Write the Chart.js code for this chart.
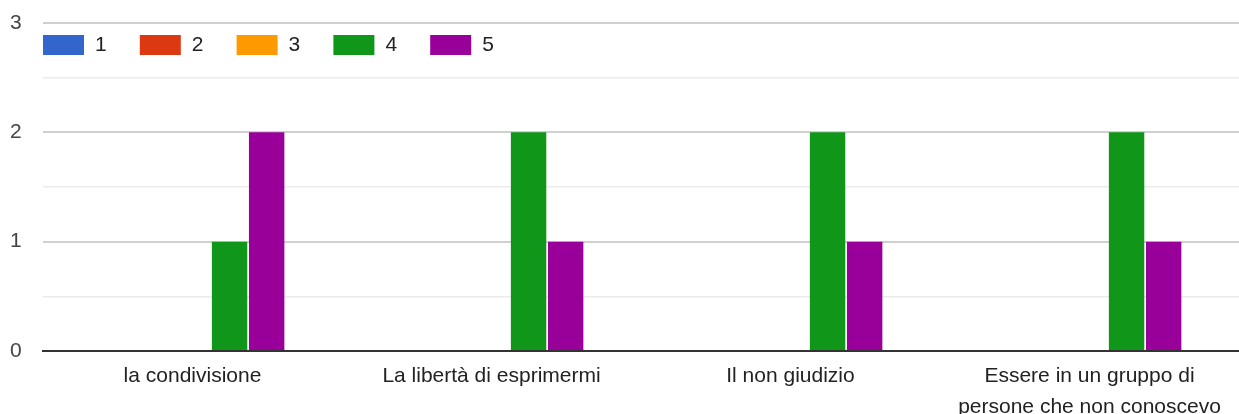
<!DOCTYPE html>
<html>
<head>
<meta charset="utf-8">
<script src="https://cdn.jsdelivr.net/npm/chart.js@4"></script>
<style>
  html, body { margin: 0; padding: 0; background: #fff; }
  #wrap { position: relative; width: 1239px; height: 414px; }
</style>
</head>
<body>
<div id="wrap"><canvas id="c" width="1239" height="414"></canvas></div>
<script>
const categories = [
  "la condivisione",
  "La libertà di esprimermi",
  "Il non giudizio",
  ["Essere in un gruppo di", "persone che non conoscevo"]
];
const seriesLabels = ["1", "2", "3", "4", "5"];
const series1 = [0, 0, 0, 0];
const series2 = [0, 0, 0, 0];
const series3 = [0, 0, 0, 0];
const series4 = [1, 2, 2, 2];
const series5 = [2, 1, 1, 1];
const yTickLabels = [0, 1, 2, 3];
const colors = ["#3366cc", "#dc3912", "#ff9900", "#109618", "#990099"];

const FONT = "Arial, 'Liberation Sans', sans-serif";

const allSeries = [series1, series2, series3, series4, series5];
const datasets = allSeries.map((d, i) => ({
  label: seriesLabels[i],
  data: d,
  backgroundColor: colors[i],
  borderWidth: 0,
  categoryPercentage: 0.62,
  barPercentage: 0.955
}));

const insideLegend = {
  id: 'insideLegend',
  afterDraw(chart) {
    const ctx = chart.ctx;
    const left = chart.chartArea.left;
    ctx.save();
    ctx.font = "21px " + FONT;
    ctx.textBaseline = 'middle';
    ctx.textAlign = 'left';
    chart.data.datasets.forEach((ds, i) => {
      const x = left + i * 96.8;
      ctx.fillStyle = ds.backgroundColor;
      ctx.fillRect(x, 35, 41, 20);
      ctx.fillStyle = '#222';
      ctx.fillText(ds.label, x + 52, 45.5);
    });
    ctx.restore();
  }
};

new Chart(document.getElementById('c'), {
  type: 'bar',
  data: { labels: categories, datasets },
  plugins: [insideLegend],
  options: {
    responsive: false,
    animation: false,
    events: [],
    layout: { padding: { top: 23, right: 0, left: 10, bottom: 0 } },
    plugins: {
      legend: { display: false },
      tooltip: { enabled: false }
    },
    scales: {
      x: {
        grid: { display: false, drawTicks: false },
        border: { display: true, color: '#333', width: 2 },
        ticks: {
          color: '#222',
          font: { family: FONT, size: 21, lineHeight: 1.5 },
          padding: 9,
          maxRotation: 0,
          autoSkip: false
        },
        afterFit(scale) { scale.height = 63; }
      },
      y: {
        min: 0,
        max: 3,
        grid: {
          drawTicks: false,
          color: (c) => (c.tick && Number.isInteger(c.tick.value)) ? '#d0d0d0' : '#ebebeb',
          lineWidth: (c) => (c.tick && Number.isInteger(c.tick.value)) ? 2 : 1.5
        },
        border: { display: false },
        ticks: {
          stepSize: 0.5,
          color: '#444',
          font: { family: FONT, size: 21 },
          padding: 0,
          crossAlign: 'far',
          callback: (v) => yTickLabels.includes(v) ? String(v) : ''
        },
        afterFit(scale) { scale.width = 33; }
      }
    }
  }
});
</script>
</body>
</html>
